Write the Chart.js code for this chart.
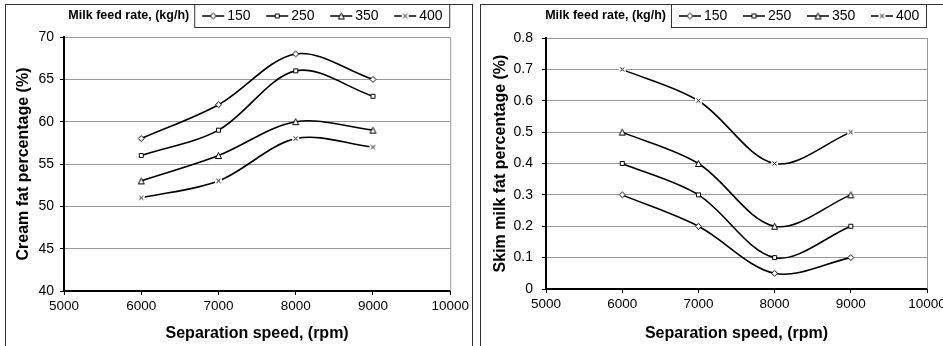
<!DOCTYPE html>
<html>
<head>
<meta charset="utf-8">
<script src="https://cdn.jsdelivr.net/npm/chart.js@4.4.1/dist/chart.umd.min.js"></script>
<style>
  body { margin: 0; background: #fff; width: 943px; height: 346px; overflow: hidden; position: relative; }
  .frame { position: absolute; border: 1px solid #333; box-sizing: border-box; }
  canvas { position: absolute; top: 0; }
</style>
</head>
<body>
<div class="frame" style="left:5px;top:4px;width:468px;height:400px"></div>
<div class="frame" style="left:480px;top:4px;width:500px;height:400px"></div>
<canvas id="creamChart" width="472" height="346" style="left:0"></canvas>
<canvas id="skimChart" width="480" height="346" style="left:472px"></canvas>
<script>
// separation speed (rpm) and milk feed rates (kg/h)
const speeds = [6000, 7000, 8000, 9000];
const feedRates = ['150', '250', '350', '400'];
const legendTitle = 'Milk feed rate, (kg/h)';
const xTitle = 'Separation speed, (rpm)';

// cream fat percentage (%)
const cream150 = [58, 62, 68, 65];
const cream250 = [56, 59, 66, 63];
const cream350 = [53, 56, 60, 59];
const cream400 = [51, 53, 58, 57];

// skim milk fat percentage (%)
const skim150 = [0.3, 0.2, 0.05, 0.1];
const skim250 = [0.4, 0.3, 0.1, 0.2];
const skim350 = [0.5, 0.4, 0.2, 0.3];
const skim400 = [0.7, 0.6, 0.4, 0.5];

Chart.defaults.font.family = '"Liberation Sans", Arial, sans-serif';
Chart.defaults.color = '#000';

// small excel-like markers, white filled so the line stops at them
function makeMarker(kind) {
    const c = document.createElement('canvas');
    c.width = 9; c.height = 9;
    const g = c.getContext('2d');
    g.fillStyle = '#fff';
    g.strokeStyle = '#000';
    g.lineWidth = 1;
    g.beginPath();
    if (kind === 'diamond') {
        g.moveTo(4.5, 1.5); g.lineTo(7.5, 4.5); g.lineTo(4.5, 7.5); g.lineTo(1.5, 4.5); g.closePath();
    } else if (kind === 'square') {
        g.rect(2.5, 2.5, 4, 4);
    } else if (kind === 'triangle') {
        g.moveTo(4.5, 1.5); g.lineTo(7.5, 7.5); g.lineTo(1.5, 7.5); g.closePath();
    } else {
        g.fillRect(1, 1, 7, 7);
        g.moveTo(2.5, 2.5); g.lineTo(6.5, 6.5);
        g.moveTo(6.5, 2.5); g.lineTo(2.5, 6.5);
    }
    if (kind !== 'cross') g.fill();
    g.stroke();
    return c;
}
const markers = [makeMarker('diamond'), makeMarker('square'), makeMarker('triangle'), makeMarker('cross')];

function makeDatasets(series) {
    return series.map((vals, i) => ({
        label: feedRates[i],
        data: vals.map((v, j) => ({ x: speeds[j], y: v })),
        borderColor: '#000',
        borderWidth: 1.6,
        tension: 0.33,
        pointStyle: markers[i],
        pointRadius: 3,
        fill: false
    }));
}

const frameBits = {
    id: 'frameBits',
    beforeDatasetsDraw(chart) {
        const { ctx, chartArea } = chart;
        ctx.save();
        ctx.strokeStyle = '#999';
        ctx.lineWidth = 1;
        ctx.beginPath();
        ctx.moveTo(chartArea.right + 0.5, chartArea.top);
        ctx.lineTo(chartArea.right + 0.5, chartArea.bottom);
        ctx.stroke();
        ctx.restore();
    },
    afterDraw(chart) {
        const { ctx, chartArea } = chart;
        const right = chartArea.right - 1;
        const left = right - 255;
        const top = 4, bottom = 27, mid = 16;
        ctx.save();
        ctx.strokeStyle = '#333';
        ctx.lineWidth = 1;
        ctx.strokeRect(left + 0.5, top + 0.5, right - left, bottom - top);
        ctx.fillStyle = '#000';
        ctx.textBaseline = 'middle';
        ctx.textAlign = 'right';
        ctx.font = 'bold 12.5px "Liberation Sans", Arial';
        ctx.fillText(legendTitle, left - 5, mid);
        ctx.textAlign = 'left';
        ctx.font = '14px "Liberation Sans", Arial';
        chart.data.datasets.forEach((ds, i) => {
            const x = left + 8 + i * 64;
            ctx.strokeStyle = '#000';
            ctx.lineWidth = 1.5;
            ctx.beginPath();
            ctx.moveTo(x, mid);
            ctx.lineTo(x + 22, mid);
            ctx.stroke();
            const m = markers[i];
            ctx.drawImage(m, x + 11 - m.width / 2, mid - m.height / 2);
            ctx.fillText(ds.label, x + 25, mid + 0.5);
        });
        ctx.restore();
    }
};

function buildChart(id, series, yTitle, yMin, yMax, yStep, box) {
    return new Chart(document.getElementById(id), {
        type: 'line',
        data: { datasets: makeDatasets(series) },
        options: {
            responsive: false,
            animation: false,
            layout: { padding: { left: 0, top: box.top, right: box.right, bottom: 0 } },
            plugins: { legend: { display: false }, tooltip: { enabled: false } },
            scales: {
                x: {
                    type: 'linear',
                    min: 5000, max: 10000,
                    ticks: { stepSize: 1000, font: { size: 13.5 }, padding: 3, maxRotation: 0, color: '#000',
                        callback: v => String(v) },
                    grid: { drawOnChartArea: false, tickLength: 4, tickColor: '#000' },
                    border: { color: '#000', width: 2 },
                    title: { display: true, text: xTitle, font: { size: 16, weight: 'bold' }, padding: { top: 0, bottom: 3 } },
                    afterFit(scale) { scale.height = box.xh; }
                },
                y: {
                    min: yMin, max: yMax,
                    ticks: { stepSize: yStep, font: { size: 14 }, padding: box.yPad, color: '#000',
                        callback: v => String(+v.toFixed(2)) },
                    grid: { color: '#999', tickLength: 4, tickColor: '#000' },
                    border: { color: '#000', width: 2 },
                    title: { display: true, text: yTitle, font: { size: 16, weight: 'bold' }, padding: { top: box.titlePad, bottom: 0 } },
                    afterFit(scale) { scale.width = box.yw; }
                }
            }
        },
        plugins: [frameBits]
    });
}

buildChart('creamChart', [cream150, cream250, cream350, cream400],
    'Cream fat percentage (%)', 40, 70, 5,
    { top: 37, right: 20, xh: 55, yw: 64, yPad: 6, titlePad: 14 });

buildChart('skimChart', [skim150, skim250, skim350, skim400],
    'Skim milk fat percentage (%)', 0, 0.8, 0.1,
    { top: 38, right: 25, xh: 57, yw: 74, yPad: 9, titlePad: 19 });
</script>
</body>
</html>
